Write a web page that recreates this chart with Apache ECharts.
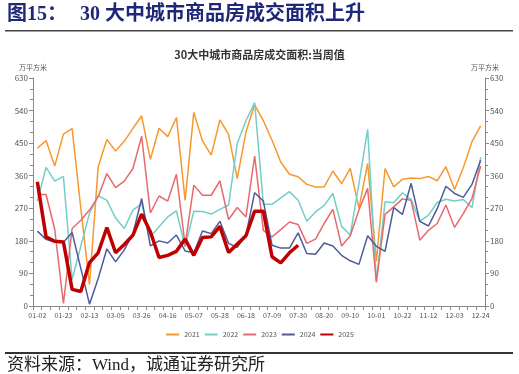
<!DOCTYPE html>
<html>
<head>
<meta charset="utf-8">
<script src="https://cdn.jsdelivr.net/npm/echarts@6/dist/echarts.min.js"></script>
<style>
html,body{margin:0;padding:0;background:#fff;}
#c{width:519px;height:374px;}
</style>
</head>
<body>
<div id="c"></div>
<script>
const categories = ['01-02','01-09','01-16','01-23','01-30','02-06','02-13','02-20','02-27','03-05','03-12','03-19','03-26','04-02','04-09','04-16','04-23','04-30','05-07','05-14','05-21','05-28','06-04','06-11','06-18','06-25','07-02','07-09','07-16','07-23','07-30','08-06','08-13','08-20','08-27','09-03','09-10','09-17','09-24','10-01','10-08','10-15','10-22','10-29','11-05','11-12','11-19','11-26','12-03','12-10','12-17','12-24'];
const seriesNames = ['2021','2022','2023','2024','2025'];
const v2021 = [436,457,387,475,490,270,59,385,460,428,455,491,525,405,491,468,521,292,535,456,417,514,474,352,481,556,512,458,398,364,357,336,329,329,373,338,380,270,394,124,380,329,350,354,352,358,346,385,322,382,454,498];
const v2022 = [290,383,345,358,73,165,256,305,292,243,214,265,283,191,219,246,263,163,262,261,254,267,279,449,512,562,281,281,299,316,292,234,260,278,311,220,196,339,488,69,288,285,313,294,234,251,286,295,290,294,272,411];
const v2023 = [308,308,212,7,214,237,265,302,366,327,345,380,469,257,304,290,364,168,334,306,306,346,239,272,246,414,209,191,211,232,225,173,185,228,267,166,194,265,325,65,253,274,296,292,182,209,228,279,217,255,297,387];
const v2024 = [207,184,176,176,203,104,5,76,158,122,155,200,297,166,180,174,196,152,147,207,200,234,173,162,196,313,290,168,160,160,202,145,143,174,166,140,125,115,194,165,151,272,253,339,234,221,269,331,311,300,336,403];
const v2025 = [343,191,179,177,46,40,120,147,217,147,170,196,254,205,134,140,151,185,140,189,191,220,148,171,194,262,262,136,119,147,168];
const colors = ['#F7982F','#72CEC7','#E8696C','#4E5B9B','#C00000'];

const chart = echarts.init(document.getElementById('c'), null, {renderer:'canvas'});
const FONT = "'Noto Sans CJK SC','Noto Sans',sans-serif";
function yAxisCfg(pos){
  return {
    type:'value', position:pos, min:0, max:630, interval:90,
    name:'万平方米', nameLocation:'end', nameGap:7,
    nameTextStyle:{fontSize:7,color:'#555',fontFamily:FONT},
    axisLine:{show:true,lineStyle:{color:'#888',width:1}},
    axisTick:{show:true,length:4,lineStyle:{color:'#888'}},
    minorTick:{show:true,splitNumber:3,length:3,lineStyle:{color:'#888'}},
    splitLine:{show:false},
    axisLabel:{fontSize:8,color:'#555',margin:5,fontFamily:FONT}
  };
}
const lineData = [v2021,v2022,v2023,v2024,v2025];
const option = {
  animation:false,
  color:colors,
  textStyle:{fontFamily:FONT},
  title:{text:'30大中城市商品房成交面积:当周值',left:'center',top:44,
    textStyle:{fontSize:11,fontWeight:'bold',color:'#333',fontFamily:FONT}},
  grid:{left:33,right:34,top:78,bottom:68},
  legend:{data:seriesNames,top:326,left:'center',itemWidth:13,itemHeight:8,itemGap:4,
    itemStyle:{opacity:0},
    textStyle:{fontSize:7,color:'#555',fontFamily:FONT}},
  xAxis:{type:'category',data:categories,boundaryGap:true,
    axisLine:{lineStyle:{color:'#888'}},
    axisTick:{show:true,interval:0,length:4,lineStyle:{color:'#888'}},
    axisLabel:{interval:2,fontSize:7,color:'#555',margin:6,fontFamily:FONT}},
  yAxis:[yAxisCfg('left'),yAxisCfg('right')],
  series: seriesNames.map((n,i)=>({
    name:n,type:'line',data:lineData[i],symbol:'none',
    yAxisIndex:0,
    lineStyle:{width: i===4?3.5:1.5,color:colors[i]},
    itemStyle:{color:colors[i]},
    z: 2+i
  })),
  graphic:[
    {type:'text',left:7,top:5,style:{text:'图15：',fontSize:20,fontWeight:'bold',fill:'#1F2878',fontFamily:"'Liberation Serif','Noto Sans CJK SC',serif"}},
    {type:'text',left:80,top:5,style:{text:'30 大中城市商品房成交面积上升',fontSize:20,fontWeight:'bold',fill:'#1F2878',fontFamily:"'Liberation Serif','Noto Sans CJK SC',serif"}},
    {type:'rect',shape:{x:5,y:30,width:508,height:1.5},style:{fill:'#444'}},
    {type:'rect',shape:{x:5,y:352,width:508,height:2},style:{fill:'#333'}},
    {type:'text',left:7,top:357,style:{text:'资料来源：Wind，诚通证券研究所',fontSize:17,fill:'#222',fontFamily:"'Liberation Serif','Noto Sans CJK SC',serif"}}
  ]
};
chart.setOption(option);
</script>
</body>
</html>
